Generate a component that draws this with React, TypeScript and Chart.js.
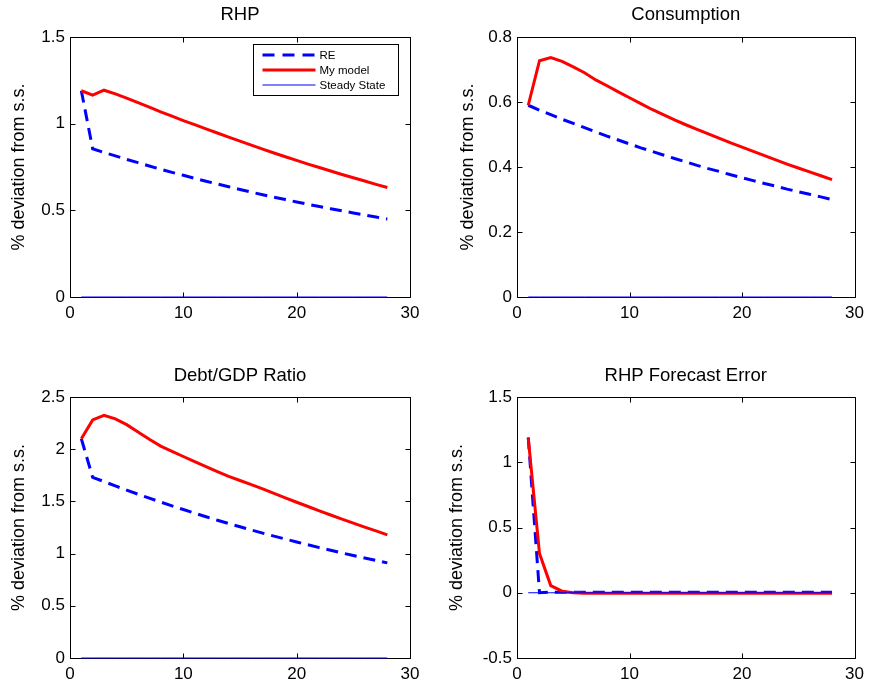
import React, { useEffect, useRef } from 'react';
import { Chart, registerables } from 'chart.js';

Chart.register(...registerables);

// ---------------- data ----------------
const periods = [1, 2, 3, 4, 5, 6, 7, 8, 9, 10, 11, 12, 13, 14, 15, 16, 17, 18, 19, 20, 21, 22, 23, 24, 25, 26, 27, 28];

const seriesNames = ['RE', 'My model', 'Steady State'];
const yAxisLabel = '% deviation from s.s.';
const xTickStep = 10;

const rhpRE = [1.19, 0.855, 0.834, 0.814, 0.794, 0.775, 0.756, 0.737, 0.719, 0.702, 0.685, 0.668, 0.652, 0.636, 0.62, 0.605, 0.59, 0.576, 0.562, 0.548, 0.535, 0.522, 0.509, 0.497, 0.485, 0.473, 0.461, 0.45];
const rhpModel = [1.19, 1.165, 1.193, 1.172, 1.147, 1.121, 1.095, 1.068, 1.043, 1.018, 0.994, 0.97, 0.946, 0.922, 0.899, 0.876, 0.853, 0.831, 0.809, 0.788, 0.767, 0.747, 0.727, 0.707, 0.688, 0.669, 0.65, 0.632];

const consRE = [0.59, 0.575, 0.561, 0.547, 0.534, 0.521, 0.508, 0.495, 0.483, 0.471, 0.459, 0.448, 0.437, 0.426, 0.416, 0.405, 0.395, 0.386, 0.376, 0.367, 0.358, 0.349, 0.341, 0.332, 0.324, 0.316, 0.308, 0.3];
const consModel = [0.59, 0.727, 0.737, 0.725, 0.708, 0.69, 0.668, 0.65, 0.631, 0.613, 0.595, 0.577, 0.561, 0.545, 0.53, 0.516, 0.502, 0.488, 0.474, 0.461, 0.448, 0.435, 0.422, 0.409, 0.397, 0.385, 0.373, 0.361];

const debtRE = [2.1, 1.73, 1.69, 1.648, 1.608, 1.569, 1.531, 1.494, 1.457, 1.422, 1.387, 1.353, 1.32, 1.288, 1.257, 1.226, 1.196, 1.167, 1.139, 1.111, 1.084, 1.057, 1.032, 1.006, 0.982, 0.958, 0.934, 0.911];
const debtModel = [2.1, 2.28, 2.325, 2.29, 2.235, 2.165, 2.095, 2.03, 1.98, 1.93, 1.88, 1.832, 1.786, 1.74, 1.7, 1.66, 1.62, 1.577, 1.534, 1.492, 1.451, 1.41, 1.37, 1.331, 1.292, 1.254, 1.217, 1.18];

const errRE = [1.19, 0.0, 0.004, 0.004, 0.004, 0.004, 0.004, 0.004, 0.004, 0.004, 0.004, 0.004, 0.004, 0.004, 0.004, 0.004, 0.004, 0.004, 0.004, 0.004, 0.004, 0.004, 0.004, 0.004, 0.004, 0.004, 0.004, 0.004];
const errModel = [1.185, 0.3, 0.055, 0.012, 0.0, -0.003, -0.004, -0.004, -0.004, -0.004, -0.004, -0.004, -0.004, -0.004, -0.004, -0.004, -0.004, -0.004, -0.004, -0.004, -0.004, -0.004, -0.004, -0.004, -0.004, -0.004, -0.004, -0.004];

const steadyState = [0, 0, 0, 0, 0, 0, 0, 0, 0, 0, 0, 0, 0, 0, 0, 0, 0, 0, 0, 0, 0, 0, 0, 0, 0, 0, 0, 0];

const panelTitles = ['RHP', 'Consumption', 'Debt/GDP Ratio', 'RHP Forecast Error'];
const yRanges = [
  [0, 1.5, 0.5],
  [0, 0.8, 0.2],
  [0, 2.5, 0.5],
  [-0.5, 1.5, 0.5],
];

// ---------------- styling ----------------
const FONT = 'Liberation Sans, Arial, Helvetica, sans-serif';
const BLUE = '#0000ff';
const RED = '#ff0000';
const CW = 435;
const CH = 344;

const toPoints = (vals: number[]) => periods.map((t, i) => ({ x: t, y: vals[i] }));

const matlabAxes = {
  id: 'matlabAxes',
  beforeDatasetsDraw(chart: any) {
    const { ctx, chartArea: a, scales } = chart;
    const L = Math.round(a.left) + 0.5;
    const R = Math.round(a.right) + 0.5;
    const T = Math.round(a.top) + 0.5;
    const B = Math.round(a.bottom) + 0.5;
    ctx.save();
    ctx.strokeStyle = '#000';
    ctx.lineWidth = 1;
    ctx.beginPath();
    ctx.rect(L, T, R - L, B - T);
    ctx.stroke();
    const tl = 5;
    ctx.beginPath();
    scales.x.ticks.forEach((tk: any) => {
      const px = Math.round(scales.x.getPixelForValue(tk.value)) + 0.5;
      ctx.moveTo(px, B);
      ctx.lineTo(px, B - tl);
      ctx.moveTo(px, T);
      ctx.lineTo(px, T + tl);
    });
    scales.y.ticks.forEach((tk: any) => {
      const py = Math.round(scales.y.getPixelForValue(tk.value)) + 0.5;
      ctx.moveTo(L, py);
      ctx.lineTo(L + tl, py);
      ctx.moveTo(R, py);
      ctx.lineTo(R - tl, py);
    });
    ctx.stroke();
    ctx.restore();
  },
};

const matlabLegend = {
  id: 'matlabLegend',
  afterDatasetsDraw(chart: any) {
    const { ctx, chartArea: a } = chart;
    const left = Math.round(a.right) - 157 + 0.5;
    const top = Math.round(a.top) + 7 + 0.5;
    const w = 145;
    const h = 51;
    ctx.save();
    ctx.fillStyle = '#fff';
    ctx.fillRect(left, top, w, h);
    ctx.strokeStyle = '#000';
    ctx.lineWidth = 1;
    ctx.strokeRect(left, top, w, h);
    const styles = [
      { color: BLUE, width: 3, dash: [12, 8] },
      { color: RED, width: 3, dash: [] },
      { color: BLUE, width: 1, dash: [] },
    ];
    ctx.font = '11.5px ' + FONT;
    ctx.textBaseline = 'middle';
    ctx.textAlign = 'left';
    seriesNames.forEach((name, i) => {
      const y = Math.round(top + 10 + i * 15);
      const s = styles[i];
      ctx.beginPath();
      ctx.strokeStyle = s.color;
      ctx.lineWidth = s.width;
      ctx.setLineDash(s.dash);
      ctx.moveTo(left + 9, y);
      ctx.lineTo(left + 62, y);
      ctx.stroke();
      ctx.setLineDash([]);
      ctx.fillStyle = '#000';
      ctx.fillText(name, left + 66, y + 0.5);
    });
    ctx.restore();
  },
};

type PanelSpec = {
  left: number;
  top: number;
  title: string;
  re: number[];
  model: number[];
  yr: number[];
  padLeft: number;
  yWidth: number;
  padRight: number;
  xHeight: number;
  titlePadTop: number;
  titlePadBottom: number;
  legend: boolean;
};

function Panel({ spec }: { spec: PanelSpec }) {
  const ref = useRef<HTMLCanvasElement | null>(null);
  useEffect(() => {
    if (!ref.current) return;
    const [ymin, ymax, ystep] = spec.yr;
    const chart = new Chart(ref.current, {
      type: 'line',
      data: {
        datasets: [
          {
            label: seriesNames[0],
            data: toPoints(spec.re),
            borderColor: BLUE,
            borderWidth: 3,
            borderDash: [12, 7],
            pointRadius: 0,
            tension: 0,
            fill: false,
            order: 3,
            clip: false as any,
          },
          {
            label: seriesNames[1],
            data: toPoints(spec.model),
            borderColor: RED,
            borderWidth: 3,
            pointRadius: 0,
            tension: 0,
            fill: false,
            order: 2,
            clip: false as any,
          },
          {
            label: seriesNames[2],
            data: toPoints(steadyState),
            borderColor: BLUE,
            borderWidth: 1,
            pointRadius: 0,
            tension: 0,
            fill: false,
            order: 1,
            clip: false as any,
          },
        ],
      },
      options: {
        responsive: false,
        animation: false,
        events: [],
        layout: { padding: { left: spec.padLeft, right: spec.padRight, top: 0, bottom: 0 } },
        plugins: {
          legend: { display: false },
          tooltip: { enabled: false },
          title: {
            display: true,
            fullSize: false,
            text: spec.title,
            color: '#000',
            font: { family: FONT, size: 18.5, weight: 'normal' as any, lineHeight: 1.2 },
            padding: { top: spec.titlePadTop, bottom: spec.titlePadBottom },
          },
        },
        scales: {
          x: {
            type: 'linear',
            min: 0,
            max: 30,
            grid: { display: false, drawTicks: false },
            border: { display: false },
            ticks: {
              stepSize: xTickStep,
              padding: 6,
              color: '#000',
              maxRotation: 0,
              autoSkip: false,
              font: { family: FONT, size: 17 },
            },
            afterFit: (s: any) => {
              s.height = spec.xHeight;
            },
          },
          y: {
            type: 'linear',
            min: ymin,
            max: ymax,
            grid: { display: false, drawTicks: false },
            border: { display: false },
            ticks: {
              stepSize: ystep,
              padding: 5,
              color: '#000',
              autoSkip: false,
              font: { family: FONT, size: 17 },
              callback: (v: any) => String(Math.round(Number(v) * 100) / 100),
            },
            title: {
              display: true,
              text: yAxisLabel,
              color: '#000',
              font: { family: FONT, size: 18 },
              padding: { top: 0, bottom: 0 },
            },
            afterFit: (s: any) => {
              s.width = spec.yWidth;
            },
          },
        },
      } as any,
      plugins: spec.legend ? [matlabAxes, matlabLegend] : [matlabAxes],
    });
    return () => chart.destroy();
  }, []);
  return (
    <div style={{ position: 'absolute', left: spec.left, top: spec.top, width: CW, height: CH }}>
      <canvas ref={ref} width={CW} height={CH} style={{ display: 'block' }} />
    </div>
  );
}

const panels: PanelSpec[] = [
  { left: 0, top: 0, title: panelTitles[0], re: rhpRE, model: rhpModel, yr: yRanges[0], padLeft: 8, yWidth: 62, padRight: 25, xHeight: 47, titlePadTop: 3.8, titlePadBottom: 11, legend: true },
  { left: CW, top: 0, title: panelTitles[1], re: consRE, model: consModel, yr: yRanges[1], padLeft: 22, yWidth: 60, padRight: 13, xHeight: 47, titlePadTop: 3.8, titlePadBottom: 11, legend: false },
  { left: 0, top: CH, title: panelTitles[2], re: debtRE, model: debtModel, yr: yRanges[2], padLeft: 8, yWidth: 62, padRight: 25, xHeight: 30, titlePadTop: 20.4, titlePadBottom: 10.4, legend: false },
  { left: CW, top: CH, title: panelTitles[3], re: errRE, model: errModel, yr: yRanges[3], padLeft: 11, yWidth: 71, padRight: 13, xHeight: 30, titlePadTop: 20.4, titlePadBottom: 10.4, legend: false },
];

export default function App() {
  return (
    <div style={{ position: 'absolute', left: 0, top: 0, width: 870, height: 688, background: '#fff' }}>
      {panels.map((p, i) => (
        <Panel key={i} spec={p} />
      ))}
    </div>
  );
}
